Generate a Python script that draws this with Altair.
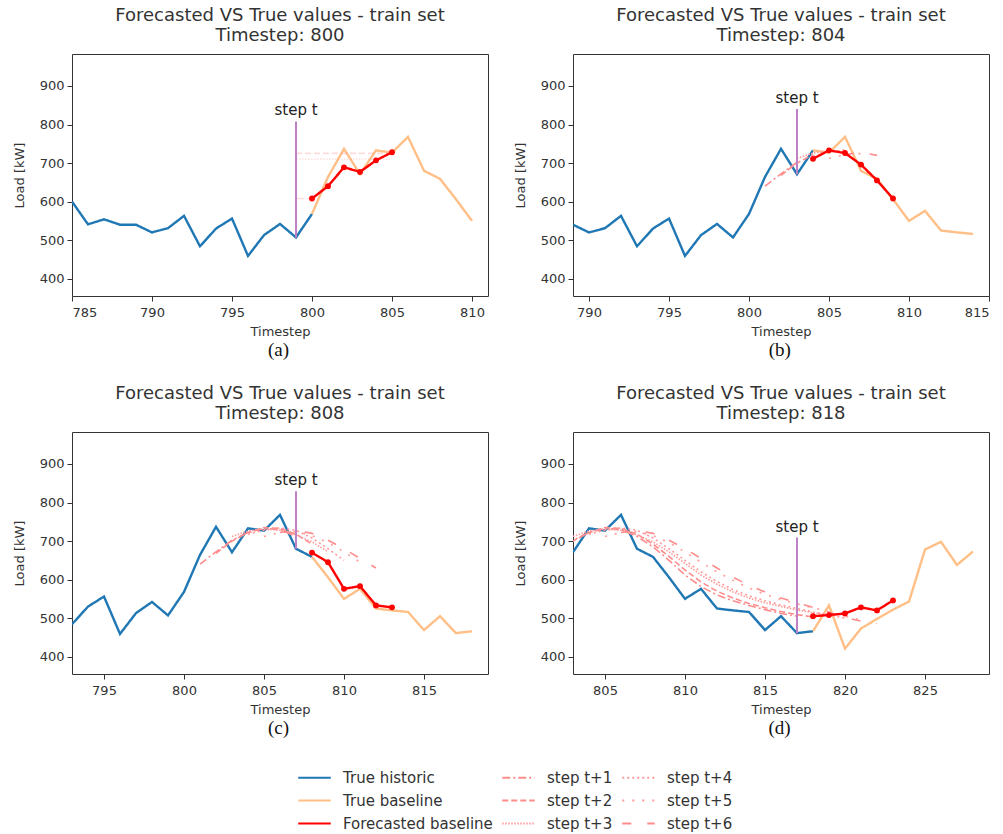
import altair as alt
import pandas as pd

# ---------------- data ----------------
timesteps = list(range(785, 829))
true_load = [600, 541, 554, 540, 540, 520, 531, 563, 484, 530,
             556, 459, 513, 542, 507, 568, 664, 737, 671, 733,
             727, 768, 680, 659, 606, 550, 576, 525, 520, 516,
             469, 505, 461, 466, 533, 421, 473, 498, 522, 543,
             678, 698, 638, 673]

panel_timesteps = [800, 804, 808, 818]
panel_captions = ["(a)", "(b)", "(c)", "(d)"]

forecast_800 = [608, 640, 689, 677, 707, 728]
forecast_804 = [711, 733, 726, 696, 655, 608]
forecast_808 = [670, 645, 576, 583, 533, 528]
forecast_818 = [505, 508, 512, 528, 520, 546]
forecasts = [forecast_800, forecast_804, forecast_808, forecast_818]

# past forecasts per horizon; step t+k starts at timestep 800+k
step_t1 = [640, 672, 702, 722, 733, 730, 712, 685, 650, 612, 582, 560, 545, 533, 522, 512, 505]
step_t2 = [668, 700, 722, 735, 733, 718, 692, 660, 625, 594, 570, 552, 538, 527, 517, 509, 503]
step_t3 = [712, 726, 731, 728, 716, 698, 672, 642, 612, 588, 568, 552, 540, 530, 521, 514, 508]
step_t4 = [718, 728, 734, 728, 708, 680, 650, 620, 595, 574, 558, 545, 534, 525, 516, 508, 500]
step_t5 = [712, 722, 725, 714, 696, 672, 645, 620, 598, 578, 562, 548, 537, 527, 516, 505, 495]
step_t6 = [722, 728, 720, 702, 680, 655, 630, 606, 585, 568, 552, 540, 528, 515, 502, 492, 486]
step_series = [step_t1, step_t2, step_t3, step_t4, step_t5, step_t6]
step_names = ["step t+1", "step t+2", "step t+3", "step t+4", "step t+5", "step t+6"]

# faint leftover segments visible in panel (a)
ghost_names = ["step t+1", "step t+2", "step t+3"]
ghost_x = [[799, 800], [799, 805], [799, 805]]
ghost_y = [[608, 608], [725, 725], [710, 710]]

step_top = [808, 840, 829, 709]

# legend order (filled column by column in a 3-column grid)
legend_order = ["True historic", "True baseline", "Forecasted baseline",
                "step t+1", "step t+2", "step t+3",
                "step t+4", "step t+5", "step t+6"]
legend_colors = ["#1f77b4", "#ffbf87", "#ff0000",
                 "#ff8c8c", "#ff8c8c", "#ff9a9a",
                 "#ff9a9a", "#ff9a9a", "#ff8c8c"]
legend_dashes = [[1, 0], [1, 0], [1, 0],
                 [8, 3, 2, 3], [6, 3], [1.5, 1.5],
                 [2, 3], [2, 8], [9, 16]]

FONT = "DejaVu Sans"

color_scale = alt.Scale(domain=legend_order, range=legend_colors)
dash_scale = alt.Scale(domain=legend_order, range=legend_dashes)
legend_def = alt.Legend(title=None, orient="none", legendX=235, legendY=716,
                        direction="vertical", columns=3, symbolType="M-2.5,0H2.5",
                        symbolSize=169, symbolStrokeWidth=2, symbolOpacity=1,
                        labelFontSize=15, labelFont=FONT, labelColor="#333",
                        labelOffset=21, rowPadding=7, columnPadding=5, labelLimit=300)


def panel(i):
    T = panel_timesteps[i]
    lo, hi = T - 15, T + 11
    truth_rows = []
    for x, y in zip(timesteps, true_load):
        if T - 15 <= x <= T:
            truth_rows.append({"x": x, "y": y, "series": "True historic"})
        if T <= x <= T + 10:
            truth_rows.append({"x": x, "y": y, "series": "True baseline"})
    step_rows = []
    for k, (name, arr) in enumerate(zip(step_names, step_series), start=1):
        for j, y in enumerate(arr):
            x = 800 + k + j
            if x <= T - 2 + k:
                step_rows.append({"x": x, "y": y, "series": name})
    if i == 0:
        for name, xs, ys in zip(ghost_names, ghost_x, ghost_y):
            for x, y in zip(xs, ys):
                step_rows.append({"x": x, "y": y, "series": name})
    fc_rows = [{"x": T + j, "y": y, "series": "Forecasted baseline"}
               for j, y in enumerate(forecasts[i])]
    t_idx = timesteps.index(T - 1)
    rule_df = pd.DataFrame([{"x": T - 1, "y": true_load[t_idx], "y2": step_top[i]}])

    ticks = [v for v in range(780, 835, 5) if lo <= v <= hi]
    xenc = alt.X("x:Q", scale=alt.Scale(domain=[lo, hi], nice=False, zero=False),
                 axis=alt.Axis(values=ticks, title="Timestep", format="d", grid=False,
                               labelPadding=5, titlePadding=6, titleFontWeight="normal"))
    yenc = alt.Y("y:Q", scale=alt.Scale(domain=[355, 983], nice=False, zero=False),
                 axis=alt.Axis(values=[400, 500, 600, 700, 800, 900], title="Load [kW]",
                               grid=False, titlePadding=13, titleFontWeight="normal"))
    col = alt.Color("series:N", scale=color_scale, legend=legend_def)
    dash = alt.StrokeDash("series:N", scale=dash_scale, legend=legend_def)

    truth = alt.Chart(pd.DataFrame(truth_rows)).mark_line(strokeWidth=2.4, clip=True).encode(
        x=xenc, y=yenc, color=col, strokeDash=dash)
    steps = alt.Chart(pd.DataFrame(step_rows)).mark_line(
        strokeWidth=1.6, clip=True, opacity=(0.3 if i == 0 else 1)).encode(
        x=xenc, y=yenc, color=col, strokeDash=dash)
    fc_df = pd.DataFrame(fc_rows)
    fc_line = alt.Chart(fc_df).mark_line(strokeWidth=2.4, clip=True).encode(
        x=xenc, y=yenc, color=col, strokeDash=dash)
    fc_pts = alt.Chart(fc_df).mark_circle(size=34, color="#ff0000", opacity=1).encode(
        x=xenc, y=yenc)
    rule = alt.Chart(rule_df).mark_rule(color="#bf80c4", strokeWidth=2).encode(
        x=xenc, y=yenc, y2="y2:Q")
    label = alt.Chart(rule_df).mark_text(text="step t", baseline="bottom", dy=-3,
                                         fontSize=15, font=FONT, color="#222").encode(
        x=xenc, y=alt.Y("y2:Q"))

    layered = alt.layer(truth, steps, fc_line, fc_pts, rule, label).properties(
        width=416, height=242,
        title=alt.Title(["Forecasted VS True values - train set", f"Timestep: {T}"],
                        fontSize=18, fontWeight="normal", font=FONT, color="#333",
                        lineHeight=20, anchor="middle", frame="group", offset=9))
    return alt.vconcat(layered, title=alt.Title(panel_captions[i], orient="bottom",
                                                 font="Liberation Serif", fontSize=19,
                                                 fontWeight="normal", color="#111",
                                                 anchor="middle", dx=28, offset=2))


top = alt.hconcat(panel(0), panel(1), spacing=24)
bottom = alt.hconcat(panel(2), panel(3), spacing=24)
chart = alt.vconcat(top, bottom, spacing=24).properties(
    padding={"left": 12, "top": 6, "right": 5, "bottom": 5},
    background="white"
).configure_view(stroke="#333", strokeWidth=1).configure_axis(
    grid=False, domain=False, tickSize=5, tickColor="#333", tickWidth=1,
    labelFont=FONT, labelFontSize=13, labelColor="#333", labelPadding=3,
    titleFont=FONT, titleFontSize=13, titleFontWeight="normal", titleColor="#333"
)

chart.save("out.html", embed_options={"renderer": "svg", "actions": False})
